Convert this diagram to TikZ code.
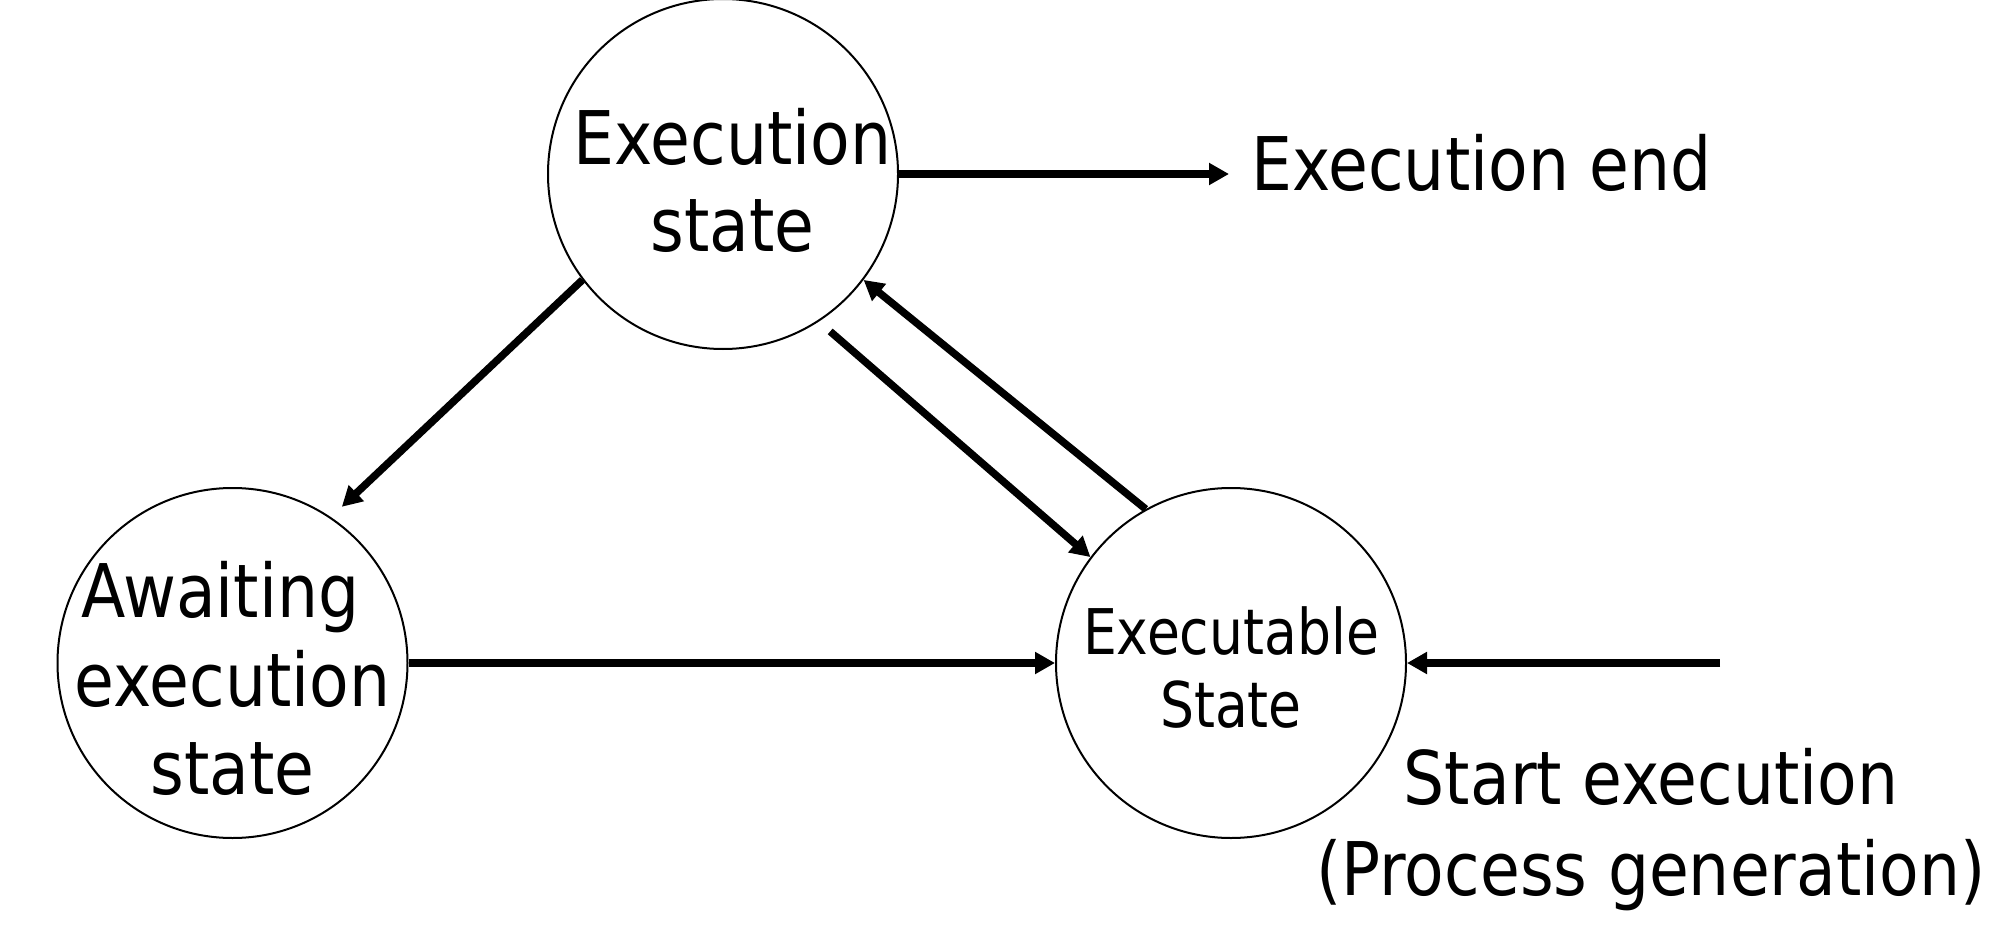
\documentclass[tikz,border=0pt]{standalone}
\usepackage{fontspec}
\newfontfamily\tfont[FakeStretch=0.875]{DejaVu Sans}
\newfontfamily\sfont[FakeStretch=0.85]{DejaVu Sans}
\usetikzlibrary{arrows.meta}
\tikzset{
  statecircle/.style={circle,draw,line width=2pt,minimum size=350pt,inner sep=-45pt,align=center},
  bigtext/.style={font=\tfont\fontsize{74}{87}\selectfont},
  smalltext/.style={font=\sfont\fontsize{63}{73}\selectfont},
  arr/.style={line width=7.5pt,-{Triangle[length=20pt,width=21pt]}},
}
\begin{document}
\begin{tikzpicture}[x=1pt,y=-1pt]
\useasboundingbox[fill=white] (0,0) rectangle (1996,936);
\node[statecircle,bigtext] (exec) at (723,174) {\hspace*{19pt}\rule{0pt}{70pt}Execution\\\hspace*{19pt}state};
\node[statecircle,font=\tfont\fontsize{74}{88.5}\selectfont] (await) at (232.5,663) {\rule{0pt}{88pt}Awaiting\hspace*{24pt}\\execution\\state};
\node[statecircle,smalltext] (exe) at (1231,663) {\rule{0pt}{56pt}Executable\\State};
\node[bigtext,inner sep=0pt,anchor=base west] (endt) at (1251,191) {Execution end};
\node[font=\tfont\fontsize{74}{91}\selectfont,inner sep=0pt,align=center] (start) at (1651,830) {Start execution\\(Process generation)};
\coordinate (st) at (1720,663);
\draw[arr,shorten >=22pt] (exec.east) -- (exec.east -| endt.west);
\draw[arr,shorten >=15pt] (exec.217) -- (await.56);
\draw[arr] (exe.119) -- (exec.323);
\draw[arr,shorten <=15pt] (exec.303) -- (exe.143);
\draw[arr] (await.east) -- (exe.west);
\draw[arr] (st) -- (exe.east);
\end{tikzpicture}
\end{document}
